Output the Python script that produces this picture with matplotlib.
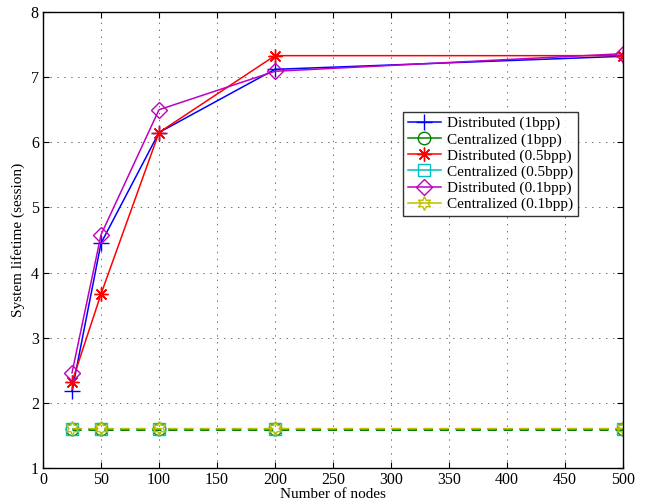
import matplotlib
matplotlib.use("Agg")
import matplotlib.pyplot as plt
from matplotlib.lines import Line2D

plt.rcParams['font.family'] = ['Liberation Serif', 'DejaVu Serif']
plt.rcParams['lines.scale_dashes'] = False

nodes = [25, 50, 100, 200, 500]
dist_1bpp = [2.18, 4.45, 6.15, 7.12, 7.32]
cent_1bpp = [1.60, 1.60, 1.60, 1.60, 1.60]
dist_05bpp = [2.32, 3.67, 6.15, 7.33, 7.33]
cent_05bpp = [1.60, 1.60, 1.60, 1.60, 1.60]
dist_01bpp = [2.46, 4.58, 6.50, 7.09, 7.36]
cent_01bpp = [1.615, 1.615, 1.615, 1.615, 1.615]
labels = ['Distributed (1bpp)', 'Centralized (1bpp)', 'Distributed (0.5bpp)',
          'Centralized (0.5bpp)', 'Distributed (0.1bpp)', 'Centralized (0.1bpp)']
xticks = [0, 50, 100, 150, 200, 250, 300, 350, 400, 450, 500]
yticks = [1, 2, 3, 4, 5, 6, 7, 8]

fig = plt.figure(figsize=(6.46, 5.04), dpi=100)
ax = fig.add_axes([43/646, 1-468/504, 580/646, 456/504])

hex_star = (6, 1, 0)
asterisk = (8, 2, 0)
dash = (0, (6.5, 5.0))
# (values, color, marker, linestyle, linewidth, markersize)
specs = [
    (dist_1bpp, '#0000ff', '+', '-', 1.1, 11),
    (cent_1bpp, '#008000', 'o', dash, 2.2, 9),
    (dist_05bpp, '#ff0000', asterisk, '-', 1.1, 10),
    (cent_05bpp, '#00bfbf', 's', dash, 1.3, 8),
    (dist_01bpp, '#bf00bf', 'D', '-', 1.1, 8),
    (cent_01bpp, '#bfbf00', hex_star, dash, 0.9, 10),
]
handles = []
for (vals, col, mk, ls, lw, ms), lab in zip(specs, labels):
    ax.plot(nodes, vals, color=col, marker=mk, linestyle=ls, linewidth=lw,
            markersize=ms, markerfacecolor='none', markeredgecolor=col, markeredgewidth=1.0)
    handles.append(Line2D([], [], color=col, marker=mk, linestyle='-', linewidth=1.1,
                          markersize=ms, markerfacecolor='none', markeredgecolor=col,
                          markeredgewidth=1.0))

ax.set_xlim(0, 500)
ax.set_ylim(1, 8)
ax.set_xticks(xticks)
ax.set_yticks(yticks)
ax.grid(True, linestyle=(0, (1, 4)), color='#555555', linewidth=0.6)
ax.tick_params(direction='in', labelsize=11.5, length=4, top=True, right=True, pad=3)
for s in ax.spines.values():
    s.set_linewidth(1.0)
ax.set_xlabel('Number of nodes', fontsize=11, labelpad=0)
ax.set_ylabel('System lifetime (session)', fontsize=11, labelpad=4)

x0 = (403 - 43) / 580
y0 = (468 - 112) / 456
leg = ax.legend(handles, labels, loc='upper left', bbox_to_anchor=(x0, y0),
                borderaxespad=0, fontsize=11, frameon=True, fancybox=False,
                handlelength=2.2, handletextpad=0.4, labelspacing=0.15, borderpad=0.3)
leg.get_frame().set_edgecolor('black')
leg.get_frame().set_linewidth(1.0)

fig.savefig('out.png', dpi=100)
